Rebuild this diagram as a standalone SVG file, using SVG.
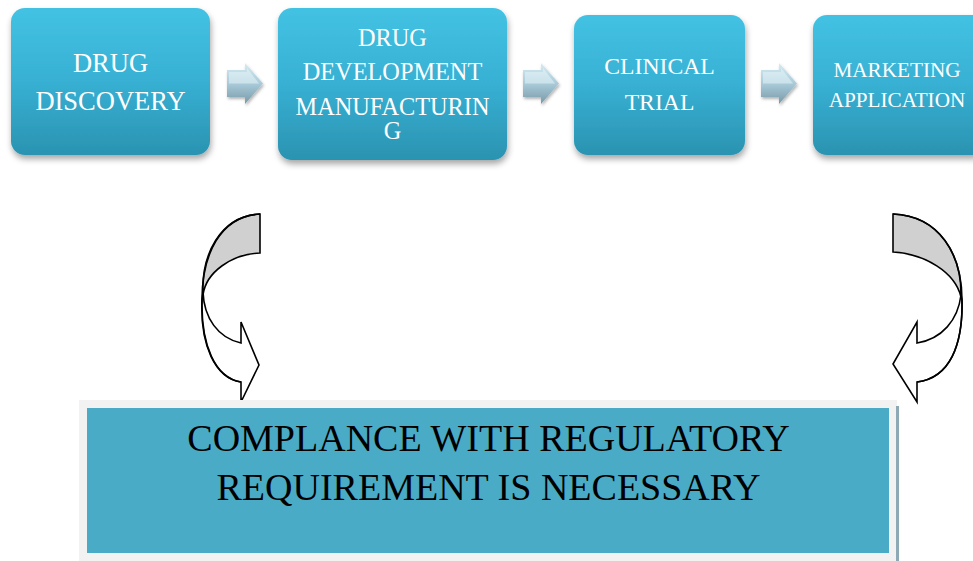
<svg xmlns="http://www.w3.org/2000/svg" width="973" height="561" viewBox="0 0 973 561">
<defs>
<linearGradient id="boxg" x1="0" y1="0" x2="0" y2="1">
<stop offset="0" stop-color="#43c2e3"/>
<stop offset="0.5" stop-color="#37b0d3"/>
<stop offset="1" stop-color="#2b93b1"/>
</linearGradient>
<linearGradient id="arrg" x1="0" y1="0" x2="0" y2="1">
<stop offset="0" stop-color="#d6ecf3"/>
<stop offset="0.5" stop-color="#a9cbd9"/>
<stop offset="1" stop-color="#7698a8"/>
</linearGradient>
<filter id="sh" x="-10%" y="-10%" width="125%" height="130%">
<feDropShadow dx="1" dy="4" stdDeviation="3" flood-color="#000" flood-opacity="0.35"/>
</filter>
<filter id="ash" x="-20%" y="-20%" width="150%" height="150%">
<feDropShadow dx="1" dy="2" stdDeviation="1.5" flood-color="#000" flood-opacity="0.3"/>
</filter>
</defs>
<style>
.box{fill:url(#boxg);filter:url(#sh)}
.t{fill:#fff;text-anchor:middle}
.chev{fill:url(#arrg);filter:url(#ash)}
.facet{fill:#e6f4f8;opacity:0.55}
.curv{stroke:#000;stroke-width:1.6;stroke-linejoin:miter}
.bt{fill:#000;text-anchor:middle;font-size:38px}
</style>
<rect width="973" height="561" fill="#fff"/>

<g id="connectors">
<g id="chev1"><path class="chev" d="M227,70 L245,70 L245,63 L263,83.5 L245,104 L245,97 L227,97 Z"/><path class="facet" d="M229,72 L247,72 L247,68 L259,83.5 L229,83.5 Z"/></g>
<g id="chev2"><path class="chev" d="M523,70 L541,70 L541,63 L559,83.5 L541,104 L541,97 L523,97 Z"/><path class="facet" d="M525,72 L543,72 L543,68 L555,83.5 L525,83.5 Z"/></g>
<g id="chev3"><path class="chev" d="M761,70 L779,70 L779,63 L797,83.5 L779,104 L779,97 L761,97 Z"/><path class="facet" d="M763,72 L781,72 L781,68 L793,83.5 L763,83.5 Z"/></g>
<g id="curve-left">
<path class="curv" fill="#d0d0d0" d="M260,214 L260,253 C232,254 206,272 203,295 C201,255 220,216 260,214 Z"/>
<path class="curv" fill="#fff" d="M203,292 C204,318 218,338 241,343 L241,322 L259,365 L241,402 L241,382 C215,378 200,345 202,300 Z"/>
<path class="curv" fill="none" d="M260,214 C220,216 202,255 202,300 C201,345 215,378 241,382"/>
</g>
<g id="curve-right">
<path class="curv" fill="#d0d0d0" d="M893,214 L893,252 C925,254 955,272 961,297 C962,255 940,216 893,214 Z"/>
<path class="curv" fill="#fff" d="M961,295 C958,320 942,339 917,343 L917,322 L893,364 L917,402 L917,382 C950,378 963,345 962,300 Z"/>
<path class="curv" fill="none" d="M893,214 C940,216 962,255 962,300 C963,345 950,378 917,382"/>
</g>
</g>

<g font-family="Liberation Serif, DejaVu Serif, serif">
<g id="node-discovery">
<rect class="box" x="11" y="8" width="199" height="147" rx="14"/>
<text class="t" font-size="26.5" x="110.5" y="72">DRUG</text>
<text class="t" font-size="26.5" x="110.5" y="110">DISCOVERY</text>
</g>
<g id="node-development">
<rect class="box" x="278" y="8" width="229" height="152" rx="14"/>
<text class="t" font-size="24.3" x="392.5" y="46">DRUG</text>
<text class="t" font-size="24.3" x="392.5" y="80">DEVELOPMENT</text>
<text class="t" font-size="24.3" x="392.5" y="115">MANUFACTURIN</text>
<text class="t" font-size="24.3" x="392.5" y="139">G</text>
</g>
<g id="node-clinical">
<rect class="box" x="574" y="15" width="171" height="140" rx="14"/>
<text class="t" font-size="23.7" x="659.5" y="74">CLINICAL</text>
<text class="t" font-size="23.7" x="659.5" y="110">TRIAL</text>
</g>
<g id="node-marketing">
<rect class="box" x="813" y="15" width="175" height="140" rx="14"/>
<text class="t" font-size="21.2" x="897" y="77">MARKETING</text>
<text class="t" font-size="21.2" x="897" y="107">APPLICATION</text>
</g>

<g id="node-compliance">
<rect x="79" y="400" width="818" height="161" fill="#f2f2f2"/>
<rect x="896" y="406" width="3" height="155" fill="#8ea9b6"/>
<rect x="87" y="408" width="802" height="145" fill="#4aabc6"/>
<text class="bt" x="488.5" y="451">COMPLANCE WITH REGULATORY</text>
<text class="bt" x="488.5" y="500">REQUIREMENT IS NECESSARY</text>
</g>
</g>
</svg>
